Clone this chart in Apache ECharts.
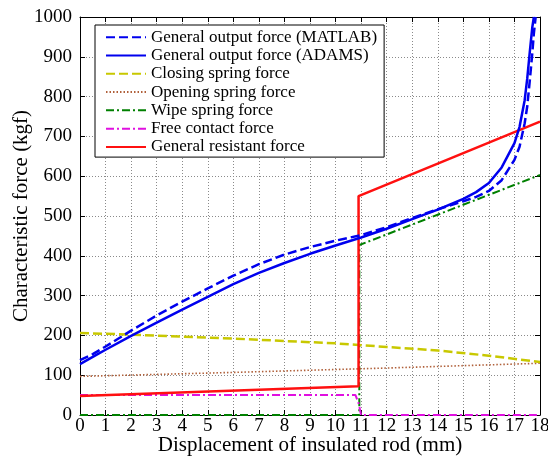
<!DOCTYPE html>
<html>
<head>
<meta charset="utf-8">
<script src="https://cdn.jsdelivr.net/npm/echarts@6/dist/echarts.min.js"></script>
<style>
  html, body { margin: 0; padding: 0; background: #fff; }
  #chart { width: 548px; height: 457px; }
</style>
</head>
<body>
<div id="chart"></div>
<script>
// Displacement (mm) / force (kgf) samples for each curve
const matlabX = [0, 0.5, 1, 2, 3, 4, 5, 6, 7, 8, 9, 10, 11, 12, 13, 14, 15, 15.5, 16, 16.5, 17, 17.2, 17.4, 17.5, 17.6, 17.7, 17.76, 17.83];
const matlabY = [138, 153, 172, 212, 250, 285, 318, 350, 379, 403, 422, 438, 452, 472, 495, 517, 537, 548, 563, 590, 641, 674, 733, 775, 840, 910, 959, 1000];

const adamsX = [0, 0.5, 1, 2, 3, 4, 5, 6, 7, 8, 9, 10, 11, 12, 13, 14, 15, 15.5, 16, 16.5, 17, 17.2, 17.4, 17.5, 17.6, 17.7, 17.76];
const adamsY = [128, 146, 164, 199, 232, 265, 297, 329, 357, 382, 405, 426, 446, 468, 492, 516, 543, 560, 583, 622, 683, 724, 791, 845, 912, 975, 1000];

const closingX = [0, 2, 4, 6, 8, 10, 12, 14, 16, 18];
const closingY = [206, 202, 197, 192, 186, 180, 171, 162, 149, 133];

const openingX = [0, 6, 12, 18];
const openingY = [97, 107, 118, 130];

const wipeX = [0, 10.93, 10.93, 18];
const wipeY = [0, 0, 427, 603];

const freeX = [0, 10.78, 10.9, 11.0, 18];
const freeY = [50, 50, 30, 0, 0];

const resistX = [0, 10.9, 10.9, 18];
const resistY = [48, 72, 550, 737];

const seriesNames = [
  'General output force (MATLAB)',
  'General output force (ADAMS)',
  'Closing spring force',
  'Opening spring force',
  'Wipe spring force',
  'Free contact force',
  'General resistant force'
];

const xTicks = { min: 0, max: 18, step: 1 };
const yTicks = { min: 0, max: 1000, step: 100 };

const FONT = 'Liberation Serif';

function pairs(xs, ys) {
  return xs.map((x, i) => [x, ys[i]]);
}

function lineSeries(name, xs, ys, color, width, dash, z) {
  return {
    name: name,
    type: 'line',
    data: pairs(xs, ys),
    symbol: 'none',
    smooth: false,
    z: z,
    lineStyle: { color: color, width: width, type: dash },
    itemStyle: { color: color },
    animation: false
  };
}

const chart = echarts.init(document.getElementById('chart'), null, { renderer: 'canvas' });

const gridLine = { show: true, lineStyle: { color: '#8a8a8a', width: 1, type: [1, 2] } };

chart.setOption({
  backgroundColor: '#ffffff',
  animation: false,
  textStyle: { fontFamily: FONT },
  grid: { left: 80, right: 8, top: 17, bottom: 42, containLabel: false, outerBoundsMode: 'none' },
  legend: {
    orient: 'vertical',
    left: 95,
    top: 25,
    data: seriesNames,
    backgroundColor: '#ffffff',
    borderColor: '#000000',
    borderWidth: 1,
    padding: [3, 7, 1, 10],
    itemWidth: 40,
    itemHeight: 14,
    itemGap: 0,
    selectedMode: false,
    itemStyle: { opacity: 0 },
    textStyle: { fontFamily: FONT, fontSize: 17, color: '#000', lineHeight: 18.3, padding: [0, 0, 0, 0] }
  },
  xAxis: [
    {
      type: 'value',
      min: xTicks.min,
      max: xTicks.max,
      interval: xTicks.step,
      name: 'Displacement of insulated rod (mm)',
      nameLocation: 'middle',
      nameGap: 20,
      nameMoveOverlap: false,
      nameTextStyle: { fontFamily: FONT, fontSize: 21, color: '#000' },
      axisLine: { show: true, onZero: false, lineStyle: { color: '#000', width: 1 } },
      axisTick: { show: true, inside: true, length: 5, lineStyle: { color: '#000' } },
      axisLabel: { fontFamily: FONT, fontSize: 19, color: '#000', margin: 2 },
      splitLine: gridLine
    },
    {
      type: 'value',
      position: 'top',
      min: xTicks.min,
      max: xTicks.max,
      interval: xTicks.step,
      axisLine: { show: true, onZero: false, lineStyle: { color: '#000', width: 1 } },
      axisTick: { show: true, inside: true, length: 5, lineStyle: { color: '#000' } },
      axisLabel: { show: false },
      splitLine: { show: false }
    }
  ],
  yAxis: [
    {
      type: 'value',
      min: yTicks.min,
      max: yTicks.max,
      interval: yTicks.step,
      name: 'Characteristic force (kgf)',
      nameLocation: 'middle',
      nameGap: 48,
      nameMoveOverlap: false,
      nameTextStyle: { fontFamily: FONT, fontSize: 21, color: '#000' },
      axisLine: { show: true, onZero: false, lineStyle: { color: '#000', width: 1 } },
      axisTick: { show: true, inside: true, length: 5, lineStyle: { color: '#000' } },
      axisLabel: { fontFamily: FONT, fontSize: 19, color: '#000', margin: 8, formatter: (v) => String(v) },
      splitLine: gridLine
    },
    {
      type: 'value',
      position: 'right',
      min: yTicks.min,
      max: yTicks.max,
      interval: yTicks.step,
      axisLine: { show: true, onZero: false, lineStyle: { color: '#000', width: 1 } },
      axisTick: { show: true, inside: true, length: 5, lineStyle: { color: '#000' } },
      axisLabel: { show: false },
      splitLine: { show: false }
    }
  ],
  series: [
    lineSeries(seriesNames[4], wipeX, wipeY, '#008000', 2, [8, 3, 2, 3], 2),
    lineSeries(seriesNames[5], freeX, freeY, '#e010e0', 2, [8, 3, 2, 3], 3),
    lineSeries(seriesNames[3], openingX, openingY, '#b0603a', 1.6, [1.5, 2], 3),
    lineSeries(seriesNames[2], closingX, closingY, '#c8c800', 2.5, [9, 4], 3),
    lineSeries(seriesNames[6], resistX, resistY, '#ff1010', 2.5, 'solid', 4),
    lineSeries(seriesNames[1], adamsX, adamsY, '#0000ee', 2.5, 'solid', 5),
    lineSeries(seriesNames[0], matlabX, matlabY, '#0000ee', 2.5, [9, 4], 5)
  ]
});
</script>
</body>
</html>
